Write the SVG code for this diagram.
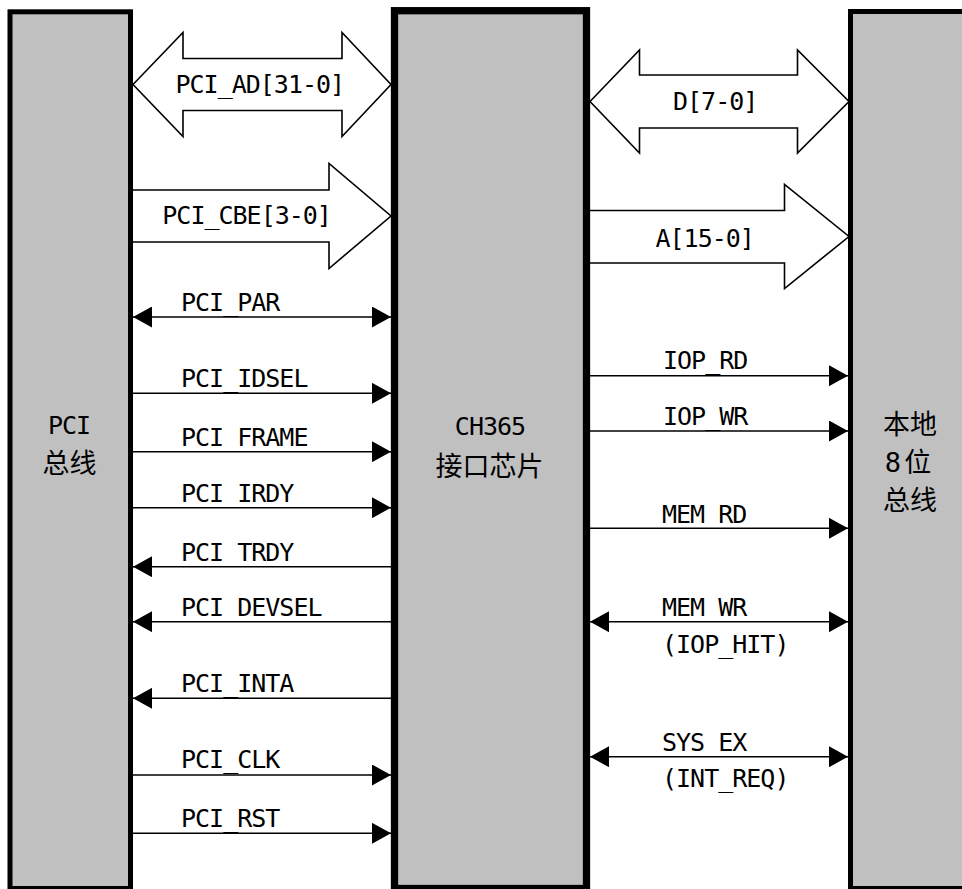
<svg xmlns="http://www.w3.org/2000/svg" width="962" height="889" viewBox="0 0 962 889">
<style>
.box{fill:#c0c0c0;stroke:#000;stroke-width:5}
.chip{fill:#c0c0c0;stroke:#000;stroke-width:7.3}
.bus{fill:#fff;stroke:#000;stroke-width:1.6;stroke-linejoin:miter}
.sig{stroke:#000;stroke-width:1.6;fill:none}
.lbl{font-family:'DejaVu Sans Mono','Noto Sans CJK SC',monospace;font-size:25px;letter-spacing:-1px;fill:#000}
.nm{font-family:'DejaVu Sans Mono','Noto Sans CJK SC',monospace;font-size:25px;letter-spacing:-1px;fill:#000;text-anchor:middle}
.cjk{font-family:'Noto Sans CJK SC',sans-serif;font-size:27px;fill:#000;text-anchor:middle}
.mix{font-family:'DejaVu Sans Mono','Noto Sans CJK SC',sans-serif;font-size:27px;fill:#000;text-anchor:middle}
</style>
<defs>
<marker id="ah" viewBox="0 0 19 21" refX="19" refY="10.5" markerWidth="19" markerHeight="21" markerUnits="userSpaceOnUse" orient="auto-start-reverse">
<path d="M0,0 L19,10.5 L0,21 z" fill="#000"/>
</marker>
</defs>
<rect width="962" height="889" fill="#fff"/>
<g id="connectors">
<polygon class="bus" points="133,84.5 183,32.5 183,58.5 342,58.5 342,32.5 391,84.5 342,136.5 342,110.5 183,110.5 183,136.5"/>
<text class="lbl" x="175.5" y="92.7">PCI_AD[31-0]</text>
<polygon class="bus" points="131,190 329,190 329,163.5 391,216 329,268.5 329,242 131,242"/>
<text class="lbl" x="162.3" y="224">PCI_CBE[3-0]</text>
<polygon class="bus" points="590,101.5 639.5,50 639.5,75 797.5,75 797.5,50 849,101.5 797.5,153 797.5,128 639.5,128 639.5,153"/>
<text class="lbl" x="673" y="110">D[7-0]</text>
<polygon class="bus" points="588,210.5 784.5,210.5 784.5,184.5 849,236.5 784.5,288.5 784.5,263 588,263"/>
<text class="lbl" x="655.5" y="246.7">A[15-0]</text>

<line class="sig" x1="133" y1="317" x2="391" y2="317" marker-start="url(#ah)" marker-end="url(#ah)"/>
<text class="lbl" x="181" y="310.7">PCI_PAR</text>
<line class="sig" x1="133" y1="393.3" x2="391" y2="393.3" marker-end="url(#ah)"/>
<text class="lbl" x="181" y="387.3">PCI_IDSEL</text>
<line class="sig" x1="133" y1="451.7" x2="391" y2="451.7" marker-end="url(#ah)"/>
<text class="lbl" x="181" y="445.7">PCI_FRAME</text>
<line class="sig" x1="133" y1="507.7" x2="391" y2="507.7" marker-end="url(#ah)"/>
<text class="lbl" x="181" y="501.7">PCI_IRDY</text>
<line class="sig" x1="391" y1="566.7" x2="133" y2="566.7" marker-end="url(#ah)"/>
<text class="lbl" x="181" y="560.7">PCI_TRDY</text>
<line class="sig" x1="391" y1="621.7" x2="133" y2="621.7" marker-end="url(#ah)"/>
<text class="lbl" x="181" y="616">PCI_DEVSEL</text>
<line class="sig" x1="391" y1="698.3" x2="133" y2="698.3" marker-end="url(#ah)"/>
<text class="lbl" x="181" y="692.3">PCI_INTA</text>
<line class="sig" x1="133" y1="775" x2="391" y2="775" marker-end="url(#ah)"/>
<text class="lbl" x="181" y="768.3">PCI_CLK</text>
<line class="sig" x1="133" y1="833.3" x2="391" y2="833.3" marker-end="url(#ah)"/>
<text class="lbl" x="181" y="827.3">PCI_RST</text>

<line class="sig" x1="590" y1="375.7" x2="848" y2="375.7" marker-end="url(#ah)"/>
<text class="lbl" x="663" y="369.3">IOP_RD</text>
<line class="sig" x1="590" y1="431" x2="848" y2="431" marker-end="url(#ah)"/>
<text class="lbl" x="663" y="425">IOP_WR</text>
<line class="sig" x1="590" y1="528.3" x2="848" y2="528.3" marker-end="url(#ah)"/>
<text class="lbl" x="662" y="522.7">MEM_RD</text>
<line class="sig" x1="590" y1="621.7" x2="848" y2="621.7" marker-start="url(#ah)" marker-end="url(#ah)"/>
<text class="lbl" x="662" y="615.7">MEM_WR</text>
<text class="lbl" x="662" y="653.3">(IOP_HIT)</text>
<line class="sig" x1="590" y1="756.7" x2="848" y2="756.7" marker-start="url(#ah)" marker-end="url(#ah)"/>
<text class="lbl" x="662" y="750.7">SYS_EX</text>
<text class="lbl" x="662" y="786.5">(INT_REQ)</text>
</g>
<g id="pci-bus">
<rect class="box" x="10" y="11.8" width="120.5" height="876.7"/>
<text class="nm" x="69" y="433.5">PCI</text>
<text class="cjk" x="69.5" y="473">总线</text>
</g>
<g id="ch365">
<rect class="chip" x="394.5" y="10.7" width="192" height="877.8"/>
<text class="nm" x="490" y="435">CH365</text>
<text class="cjk" x="489.5" y="475.5">接口芯片</text>
</g>
<g id="local-bus">
<rect class="box" x="850.5" y="11.5" width="130" height="877"/>
<text class="cjk" x="910" y="434">本地</text>
<text class="mix" x="908" y="472">8<tspan dx="3">位</tspan></text>
<text class="cjk" x="910" y="510">总线</text>
</g>
</svg>
